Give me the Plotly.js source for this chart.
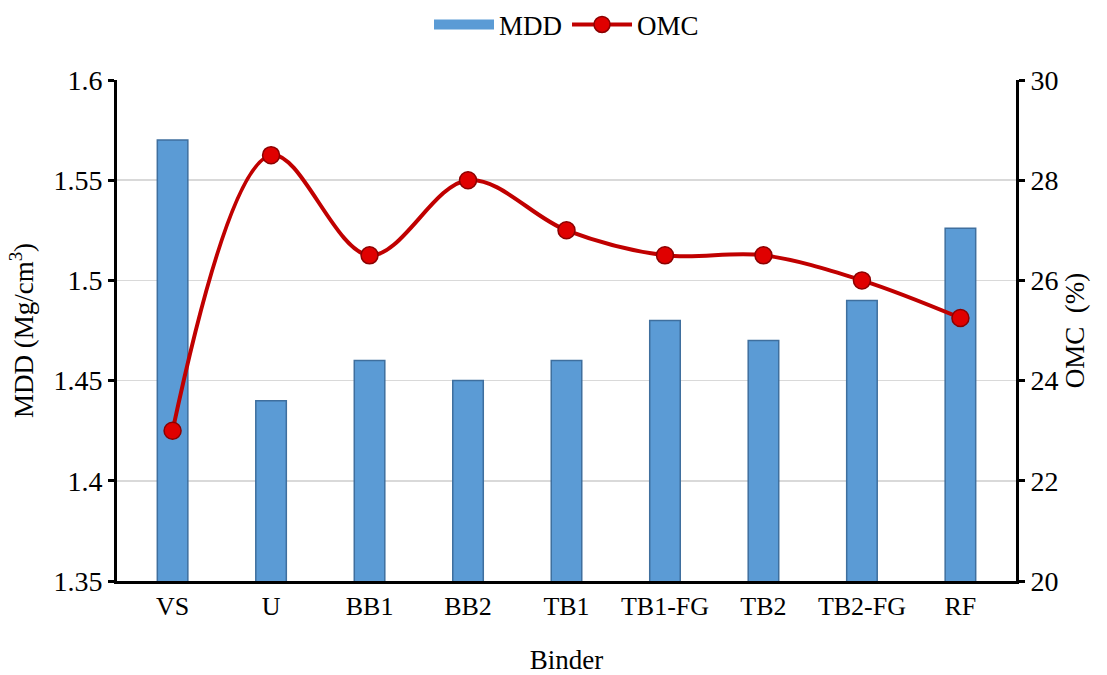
<!DOCTYPE html>
<html>
<head>
<meta charset="utf-8">
<script src="https://cdn.plot.ly/plotly-3.0.1.min.js"></script>
<style>html,body{margin:0;padding:0;background:#fff;}#chart{width:1107px;height:675px;}</style>
</head>
<body>
<div id="chart"></div>
<script>
const binders = ["VS", "U", "BB1", "BB2", "TB1", "TB1-FG", "TB2", "TB2-FG", "RF"];
const mdd = [1.57, 1.44, 1.46, 1.45, 1.46, 1.48, 1.47, 1.49, 1.526];
const omc = [23, 28.5, 26.5, 28, 27, 26.5, 26.5, 26, 25.25];
const mddTicks = [1.35, 1.4, 1.45, 1.5, 1.55, 1.6];
const mddTickText = ["1.35", "1.4", "1.45", "1.5", "1.55", "1.6"];
const omcTicks = [20, 22, 24, 26, 28, 30];

const FAM = "'Liberation Serif', 'Times New Roman', serif";
function f(size) { return {family: FAM, size: size, color: "#000"}; }

const traces = [
  {
    type: "bar", name: "MDD", x: binders, y: mdd, yaxis: "y",
    marker: {color: "#5b9bd5", line: {color: "#3f6f9e", width: 1.5}},
    showlegend: false, legendgroup: "mdd"
  },
  {
    // legend entry for MDD drawn as a wide bar-like swatch
    type: "scatter", mode: "lines", name: "MDD", x: [binders[0]], y: [null], yaxis: "y",
    line: {color: "#5b9bd5", width: 10}, legendgroup: "mdd", showlegend: true
  },
  {
    type: "scatter", mode: "lines+markers", name: "OMC", x: binders, y: omc, yaxis: "y2",
    line: {color: "#c00000", width: 4, shape: "spline", smoothing: 1},
    marker: {color: "#e00000", size: 17, line: {color: "#8b0000", width: 1.5}}
  }
];

const layout = {
  width: 1107, height: 675,
  margin: {l: 117, r: 91, t: 80, b: 94, autoexpand: false},
  paper_bgcolor: "#fff", plot_bgcolor: "#fff",
  font: f(27),
  bargap: 0.69,
  showlegend: true,
  legend: {orientation: "h", x: 0.5, xanchor: "center", y: 1.11, yanchor: "middle",
           font: f(27), traceorder: "normal", itemwidth: 60, tracegroupgap: 0},
  xaxis: {
    type: "category",
    title: {text: "Binder", font: f(27), standoff: 30},
    showline: true, linecolor: "#000", linewidth: 3,
    ticks: "", tickfont: f(26),
    showgrid: false, zeroline: false, automargin: false
  },
  yaxis: {
    title: {text: "MDD (Mg/cm<sup>3</sup>)", font: f(27), standoff: 12},
    range: [1.35, 1.6], tickvals: mddTicks, ticktext: mddTickText,
    showline: true, linecolor: "#000", linewidth: 3,
    ticks: "outside", ticklen: 6, tickwidth: 3, tickcolor: "#000",
    tickfont: f(28), automargin: false,
    showgrid: true, gridcolor: "#d9d9d9", gridwidth: 1.5, zeroline: false
  },
  yaxis2: {
    title: {text: "OMC  (%)", font: f(27), standoff: 8},
    overlaying: "y", side: "right",
    range: [20, 30], tickvals: omcTicks,
    showline: true, linecolor: "#000", linewidth: 3,
    ticks: "outside", ticklen: 6, tickwidth: 3, tickcolor: "#000",
    tickfont: f(28), automargin: false,
    showgrid: false, zeroline: false
  }
};

Plotly.newPlot("chart", traces, layout, {displayModeBar: false, staticPlot: true});
</script>
</body>
</html>
